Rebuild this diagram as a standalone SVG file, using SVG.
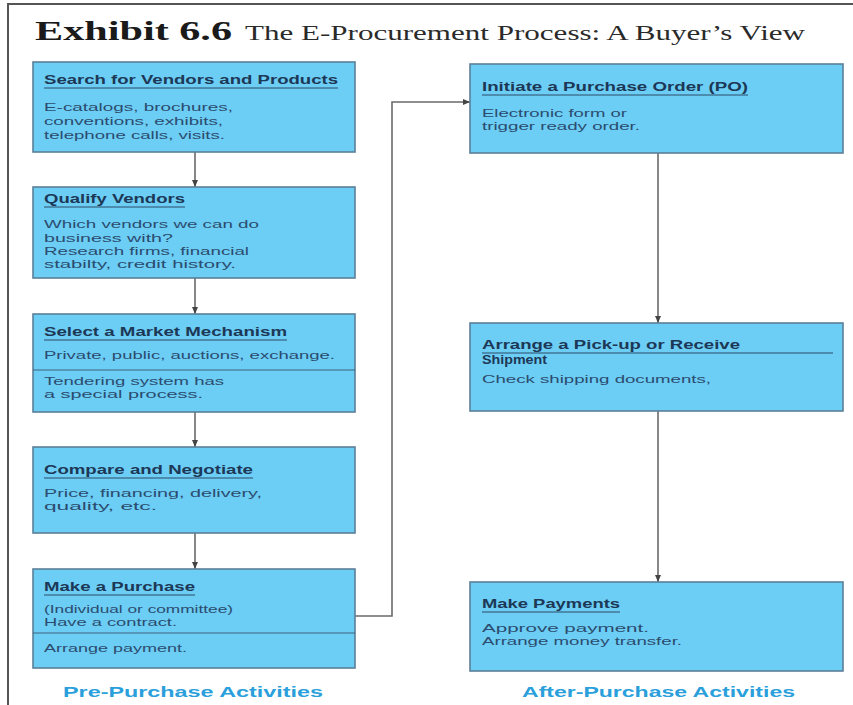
<svg xmlns="http://www.w3.org/2000/svg" width="853" height="705" viewBox="0 0 853 705">
<defs>
<marker id="arr" markerWidth="7" markerHeight="6" refX="7" refY="3" orient="auto" markerUnits="userSpaceOnUse">
<path d="M0,0 L7,3 L0,6 z" fill="#444"/>
</marker>
<style>
.box{fill:#6ccdf5;stroke:#5b7f98;stroke-width:1.6}
.div{stroke:#3f6580;stroke-width:1.2}
.ul{stroke:#2a4a68;stroke-width:1}
.h{font-family:"Liberation Sans",Arial,sans-serif;font-weight:bold;font-size:12px;fill:#1c3856}
.b{font-family:"Liberation Sans",Arial,sans-serif;font-size:11.5px;fill:#2b4c6e}
.ft{font-family:"Liberation Sans",Arial,sans-serif;font-weight:bold;font-size:15px;fill:#2a9fdb}
.conn{fill:none;stroke:#6a6a6a;stroke-width:1.6}
</style>
</defs>
<rect width="853" height="705" fill="#ffffff"/>
<path d="M8,705 V4 H853" fill="none" stroke="#555" stroke-width="2"/>
<g id="title">
<text x="35" y="40" font-family="'Liberation Serif','Times New Roman',serif" font-weight="bold" font-size="27" fill="#1a1a1a" textLength="197" lengthAdjust="spacingAndGlyphs">Exhibit 6.6</text>
<text x="245" y="40" font-family="'Liberation Serif','Times New Roman',serif" font-size="20" fill="#2a2a2a" textLength="560" lengthAdjust="spacingAndGlyphs">The E-Procurement Process: A Buyer’s View</text>
</g>
<g id="connectors">
<line class="conn" x1="195" y1="152" x2="195" y2="187" marker-end="url(#arr)"/>
<line class="conn" x1="195" y1="278" x2="195" y2="314" marker-end="url(#arr)"/>
<line class="conn" x1="195" y1="412" x2="195" y2="447" marker-end="url(#arr)"/>
<line class="conn" x1="195" y1="533" x2="195" y2="569" marker-end="url(#arr)"/>
<line class="conn" x1="658" y1="153" x2="658" y2="323" marker-end="url(#arr)"/>
<line class="conn" x1="658" y1="411" x2="658" y2="582" marker-end="url(#arr)"/>
<path class="conn" d="M355,616 H392 V102 H470" marker-end="url(#arr)"/>
</g>
<g id="search">
<rect class="box" x="33" y="62" width="322" height="90"/>
<text class="h" x="44" y="84" textLength="294" lengthAdjust="spacingAndGlyphs">Search for Vendors and Products</text>
<line class="ul" x1="44" y1="88" x2="338" y2="88"/>
<text class="b" x="44" y="111" textLength="189" lengthAdjust="spacingAndGlyphs">E-catalogs, brochures,</text>
<text class="b" x="44" y="125" textLength="179" lengthAdjust="spacingAndGlyphs">conventions, exhibits,</text>
<text class="b" x="44" y="139" textLength="181" lengthAdjust="spacingAndGlyphs">telephone calls, visits.</text>
</g>
<g id="qualify">
<rect class="box" x="33" y="187" width="322" height="91"/>
<text class="h" x="44" y="203" textLength="141" lengthAdjust="spacingAndGlyphs">Qualify Vendors</text>
<line class="ul" x1="44" y1="207" x2="185" y2="207"/>
<text class="b" x="44" y="228" textLength="215" lengthAdjust="spacingAndGlyphs">Which vendors we can do</text>
<text class="b" x="44" y="242" textLength="129" lengthAdjust="spacingAndGlyphs">business with?</text>
<text class="b" x="44" y="255" textLength="205" lengthAdjust="spacingAndGlyphs">Research firms, financial</text>
<text class="b" x="44" y="268" textLength="192" lengthAdjust="spacingAndGlyphs">stabilty, credit history.</text>
</g>
<g id="select">
<rect class="box" x="33" y="314" width="322" height="98"/>
<text class="h" x="44" y="336" textLength="243" lengthAdjust="spacingAndGlyphs">Select a Market Mechanism</text>
<line class="ul" x1="44" y1="340" x2="287" y2="340"/>
<text class="b" x="44" y="359" textLength="291" lengthAdjust="spacingAndGlyphs">Private, public, auctions, exchange.</text>
<line class="div" x1="33" y1="370" x2="355" y2="370"/>
<text class="b" x="44" y="385" textLength="180" lengthAdjust="spacingAndGlyphs">Tendering system has</text>
<text class="b" x="44" y="398" textLength="159" lengthAdjust="spacingAndGlyphs">a special process.</text>
</g>
<g id="compare">
<rect class="box" x="33" y="447" width="322" height="86"/>
<text class="h" x="44" y="474" textLength="209" lengthAdjust="spacingAndGlyphs">Compare and Negotiate</text>
<line class="ul" x1="44" y1="478" x2="253" y2="478"/>
<text class="b" x="44" y="497" textLength="218" lengthAdjust="spacingAndGlyphs">Price, financing, delivery,</text>
<text class="b" x="44" y="510" textLength="113" lengthAdjust="spacingAndGlyphs">quality, etc.</text>
</g>
<g id="purchase">
<rect class="box" x="33" y="569" width="322" height="99"/>
<text class="h" x="44" y="591" textLength="151" lengthAdjust="spacingAndGlyphs">Make a Purchase</text>
<line class="ul" x1="44" y1="595" x2="195" y2="595"/>
<text class="b" x="44" y="613" textLength="189" lengthAdjust="spacingAndGlyphs">(Individual or committee)</text>
<text class="b" x="44" y="626" textLength="133" lengthAdjust="spacingAndGlyphs">Have a contract.</text>
<line class="div" x1="33" y1="633" x2="355" y2="633"/>
<text class="b" x="44" y="652" textLength="143" lengthAdjust="spacingAndGlyphs">Arrange payment.</text>
</g>
<g id="initiate">
<rect class="box" x="470" y="64" width="373" height="89"/>
<text class="h" x="482" y="91" textLength="266" lengthAdjust="spacingAndGlyphs">Initiate a Purchase Order (PO)</text>
<line class="ul" x1="482" y1="95" x2="748" y2="95"/>
<text class="b" x="482" y="117" textLength="145" lengthAdjust="spacingAndGlyphs">Electronic form or</text>
<text class="b" x="482" y="130" textLength="158" lengthAdjust="spacingAndGlyphs">trigger ready order.</text>
</g>
<g id="arrange">
<rect class="box" x="470" y="323" width="373" height="88"/>
<text class="h" x="482" y="349" textLength="258" lengthAdjust="spacingAndGlyphs">Arrange a Pick-up or Receive</text>
<line class="ul" x1="482" y1="353" x2="833" y2="353"/>
<text class="h" x="482" y="364" textLength="65" lengthAdjust="spacingAndGlyphs">Shipment</text>
<text class="b" x="482" y="383" textLength="229" lengthAdjust="spacingAndGlyphs">Check shipping documents,</text>
</g>
<g id="payments">
<rect class="box" x="470" y="582" width="373" height="89"/>
<text class="h" x="482" y="608" textLength="138" lengthAdjust="spacingAndGlyphs">Make Payments</text>
<line class="ul" x1="482" y1="612" x2="620" y2="612"/>
<text class="b" x="482" y="632" textLength="167" lengthAdjust="spacingAndGlyphs">Approve payment.</text>
<text class="b" x="482" y="645" textLength="200" lengthAdjust="spacingAndGlyphs">Arrange money transfer.</text>
</g>
<g id="footers">
<text class="ft" x="63" y="697" textLength="260" lengthAdjust="spacingAndGlyphs">Pre-Purchase Activities</text>
<text class="ft" x="522" y="697" textLength="273" lengthAdjust="spacingAndGlyphs">After-Purchase Activities</text>
</g>
</svg>
